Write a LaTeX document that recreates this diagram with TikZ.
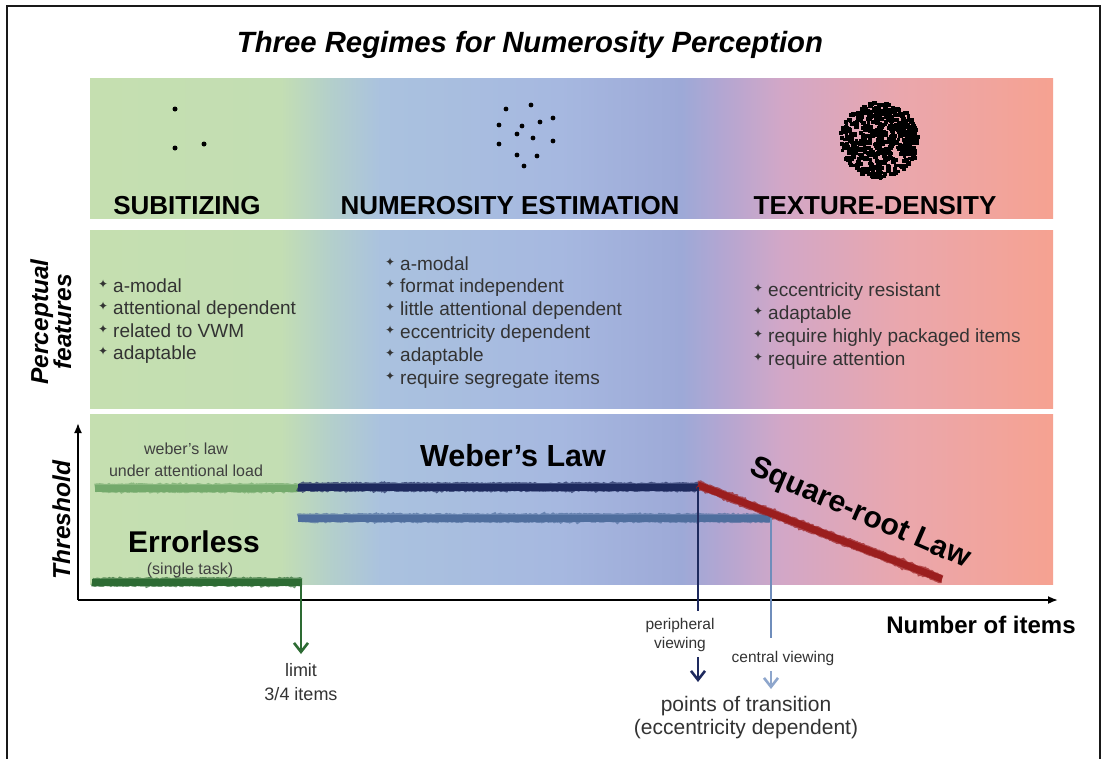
\documentclass[tikz,border=0pt]{standalone}
\usepackage{fontspec}
\setmainfont{Liberation Sans}
\newfontfamily\dejavu{DejaVu Sans}
\usetikzlibrary{arrows.meta,decorations.pathmorphing}

\definecolor{cA}{HTML}{C5DFB0}
\definecolor{cB}{HTML}{C3DEB3}
\definecolor{cC}{HTML}{B3CFCB}
\definecolor{cD}{HTML}{AAC2DF}
\definecolor{cE}{HTML}{A6B8E0}
\definecolor{cF}{HTML}{9DA9D7}
\definecolor{cG}{HTML}{B2A6D2}
\definecolor{cH}{HTML}{D2A7C7}
\definecolor{cI}{HTML}{EAA7AD}
\definecolor{cJ}{HTML}{F6A291}
\definecolor{txt}{HTML}{333333}
\definecolor{lgreen}{HTML}{74AA6C}
\definecolor{dgreen}{HTML}{2D6B33}
\definecolor{navy}{HTML}{1E2A5E}
\definecolor{steel}{HTML}{4F6E9E}
\definecolor{lsteel}{HTML}{6F8DBB}
\definecolor{asteel}{HTML}{8EA6CC}
\definecolor{dred}{HTML}{9B1E1E}

\pgfdeclarehorizontalshading{regimes}{100bp}{color(0bp)=(cA); color(25bp)=(cA); color(34.9bp)=(cB); color(37.5bp)=(cC); color(40.1bp)=(cD); color(49.4bp)=(cE); color(55.7bp)=(cF); color(57.7bp)=(cG); color(60.9bp)=(cH); color(67.1bp)=(cI); color(75bp)=(cJ); color(100bp)=(cJ)}

\newcommand{\bul}{\makebox[15pt][l]{\raisebox{4pt}{\dejavu\fontsize{12}{12}\selectfont ✦}}}

\tikzset{
  band/.style={shading=regimes, draw=none},
  feat/.style={inner sep=0pt, anchor=base west, text=txt, font=\fontsize{19}{22}\selectfont},
  biglab/.style={inner sep=0pt, anchor=base, font=\fontsize{26}{28}\selectfont\bfseries},
  lawlab/.style={inner sep=0pt, anchor=base, font=\fontsize{30.5}{32}\selectfont\bfseries},
  smalllab/.style={inner sep=0pt, anchor=base, text=black!75, font=\fontsize{16}{18}\selectfont},
  vlab/.style={inner sep=0pt, anchor=base, rotate=90, font=\fontsize{24.5}{26}\selectfont\bfseries\itshape},
  botlab/.style={inner sep=0pt, anchor=base, text=txt},
  rough/.style={line width=8.5pt, opacity=0.7, decorate, decoration={random steps, segment length=1.5pt, amplitude=0.7pt}},
  solidln/.style={line width=7pt},
  axis/.style={line width=1.8pt, -{Latex[length=10pt,width=8pt]}},
  vconn/.style={line width=1.6pt},
  barb/.style={-{Straight Barb[length=9pt,width=14pt,line width=2.6pt]}},
}

\begin{document}
\begin{tikzpicture}[x=1pt,y=-1pt]
\useasboundingbox (0,0) rectangle (1105,758);
\fill[white] (0,0) rectangle (1105,758);
% frame
\draw[line width=2pt, black!90] (7,770) -- (7,6) -- (1100,6) -- (1100,770);

% title
\node[inner sep=0pt, anchor=base, font=\fontsize{29.3}{31}\selectfont\bfseries\itshape] (title) at (530,52) {Three Regimes for Numerosity Perception};

% bands
\path[band] (90,78) rectangle (1053,218);
\path[band] (90,230) rectangle (1053,408);
\path[band] (90,414) rectangle (1053,584);

% subitizing dots
\foreach \x/\y in {175/109, 175/148, 204/144}{\fill (\x,\y) circle (2.5);}
% numerosity dots
\foreach \x/\y in {506/109, 531/105, 499/125, 522/126, 540/122, 553/118, 517/134, 533/138, 553/141, 499/144, 517/155, 537/156, 524/166}{\fill (\x,\y) circle (2.4);}
% texture blob
\pgfmathsetseed{17}
\foreach \i in {1,...,520}{
  \pgfmathsetmacro\rr{sqrt(rnd)}
  \pgfmathsetmacro\aa{360*rnd}
  \pgfmathsetmacro\px{879+39*\rr*cos(\aa)}
  \pgfmathsetmacro\py{140+38*\rr*sin(\aa)}
  \pgfmathsetmacro\ww{3+2.5*rnd}
  \fill (\px,\py) ++(-2,-1.8) rectangle ++(\ww,3.8);
}

\node[biglab] (sub) at (187,214.5) {SUBITIZING};
\node[biglab] (num) at (510,214.5) {NUMEROSITY ESTIMATION};
\node[biglab] (tex) at (875,214.5) {TEXTURE-DENSITY};

% side labels
\node[vlab] (perc) at (48,322) {Perceptual};
\node[vlab] (featl) at (71,322) {features};
\node[vlab] (thr) at (70,520) {Threshold};

% feature lists
\foreach \t [count=\i] in {a-modal, attentional dependent, related to VWM, adaptable}
  \node[feat] (fa\i) at (98,{292+22.5*(\i-1)}) {\bul\t};
\foreach \t [count=\i] in {a-modal, format independent, little attentional dependent, eccentricity dependent, adaptable, require segregate items}
  \node[feat] (fb\i) at (385,{270+22.9*(\i-1)}) {\bul\t};
\foreach \t [count=\i] in {eccentricity resistant, adaptable, require highly packaged items, require attention}
  \node[feat] (fc\i) at (753,{296+23*(\i-1)}) {\bul\t};

% axes
\coordinate (orig) at (78,600);
\coordinate (ytop) at (78,423);
\coordinate (xend) at (1058,600);
\draw[axis] (orig) -- (ytop);
\draw[axis] (orig) -- (xend);

% law lines
\coordinate (gL) at (95,488);  \coordinate (gR) at (298,488);
\coordinate (nL) at (298,487); \coordinate (nR) at (698,487);
\coordinate (bL) at (298,518); \coordinate (bR) at (771,518);
\coordinate (rL) at (698,485); \coordinate (rR) at (942,579);
\coordinate (eL) at (92,582);  \coordinate (eR) at (302,582);

\draw[rough, lgreen] (gL) -- (gR);
\draw[solidln, lgreen] (gL) -- (gR);
\draw[rough, steel] (bL) -- (bR);
\draw[solidln, steel] (bL) -- (bR);
\draw[rough, navy] (nL) -- (nR);
\draw[solidln, navy] (nL) -- (nR);
\draw[rough, dred] (rL) -- (rR);
\draw[solidln, dred] (rL) -- (rR);
\draw[rough, dgreen] (eL) -- (eR);
\draw[solidln, dgreen] (eL) -- (eR);

% text in threshold band
\node[smalllab] (wl1) at (186,454) {weber's law};
\node[smalllab] (wl2) at (186,476) {under attentional load};
\node[lawlab] (weber) at (513,466) {Weber's Law};
\node[lawlab, font=\fontsize{30}{32}\selectfont\bfseries] (err) at (194,552) {Errorless};
\node[smalllab] (single) at (190,574) {(single task)};
\node[lawlab, rotate=-23.5, font=\fontsize{30}{32}\selectfont\bfseries] (sqr) at (857,521) {Square-root Law};

% bottom labels
\node[inner sep=0pt, anchor=base, font=\fontsize{24}{26}\selectfont\bfseries] (nitems) at (981,633) {Number of items};
\node[botlab, font=\fontsize{15.5}{17}\selectfont] (per1) at (680,629) {peripheral};
\node[botlab, font=\fontsize{15.5}{17}\selectfont] (per2) at (680,648) {viewing};
\node[botlab, font=\fontsize{15.5}{17}\selectfont] (cen) at (783,662) {central viewing};
\node[botlab, font=\fontsize{18}{20}\selectfont] (lim1) at (301,676) {limit};
\node[botlab, font=\fontsize{18}{20}\selectfont] (lim2) at (301,700) {3/4 items};
\node[botlab, font=\fontsize{21}{23}\selectfont] (pt1) at (746,711) {points of transition};
\node[botlab, font=\fontsize{21}{23}\selectfont] (pt2) at (746,734) {(eccentricity dependent)};

% vertical connectors
\coordinate (gA) at (301,582);  \coordinate (gB) at (301,654);
\coordinate (pA) at (698,487);  \coordinate (pB) at (698,611);
\coordinate (pC) at (698,657);  \coordinate (pD) at (698,682);
\coordinate (cA1) at (771,518); \coordinate (cB1) at (771,638);
\coordinate (cC1) at (771,671); \coordinate (cD1) at (771,689);
\draw[vconn, dgreen, barb] (gA) -- (gB);
\draw[vconn, navy] (pA) -- (pB);
\draw[vconn, navy, barb] (pC) -- (pD);
\draw[vconn, lsteel] (cA1) -- (cB1);
\draw[vconn, asteel, barb] (cC1) -- (cD1);
\end{tikzpicture}
\end{document}
